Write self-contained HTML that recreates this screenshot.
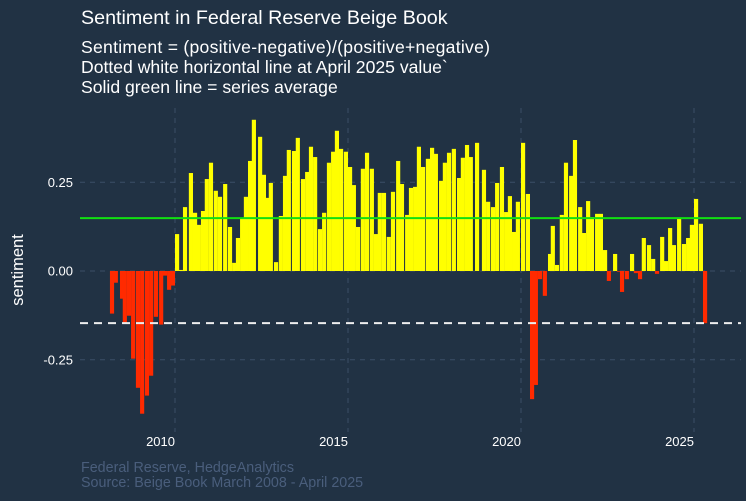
<!DOCTYPE html>
<html><head><meta charset="utf-8"><style>
body{margin:0;background:#213244;}
svg{display:block;font-family:"Liberation Sans",sans-serif;}
</style></head><body>
<svg id="chart" width="746" height="501" viewBox="0 0 746 501">
<rect x="0" y="0" width="746" height="501" fill="#213244"/>
<text x="81" y="24" font-size="19.7" fill="#ffffff">Sentiment in Federal Reserve Beige Book</text>
<text x="81" y="53" font-size="17.6" textLength="409" fill="#ffffff">Sentiment = (positive-negative)/(positive+negative)</text>
<text x="81" y="73" font-size="17.6" fill="#ffffff">Dotted white horizontal line at April 2025 value`</text>
<text x="81" y="93" font-size="17.6" fill="#ffffff">Solid green line = series average</text>
<text transform="translate(23,270) rotate(-90)" text-anchor="middle" font-size="16.5" fill="#ffffff">sentiment</text>
<g id="grid"></g>
<g id="bars"></g>
<g id="refs"></g>
<g id="ticks"></g>
<text x="81" y="472" font-size="14.3" fill="#4a5e7c">Federal Reserve, HedgeAnalytics</text>
<text x="81" y="487" font-size="14.3" fill="#4a5e7c">Source: Beige Book March 2008 - April 2025</text>
</svg>
<script>
const dates=[2008.18,2008.29,2008.47,2008.55,2008.67,2008.79,2008.93,2009.05,2009.19,2009.31,2009.45,2009.60,2009.71,2009.83,2009.94,
2010.06,2010.17,2010.29,2010.46,2010.58,2010.69,2010.81,2010.92,2011.04,2011.18,2011.30,2011.45,2011.59,2011.71,2011.82,2011.94,
2012.05,2012.17,2012.28,2012.46,2012.57,2012.66,2012.77,2012.92,2013.06,2013.18,2013.29,2013.44,2013.55,2013.70,2013.82,2013.93,
2014.05,2014.19,2014.31,2014.45,2014.57,2014.68,2014.80,2014.94,2015.06,2015.17,2015.29,2015.43,2015.55,2015.69,2015.81,2015.92,
2016.04,2016.18,2016.30,2016.45,2016.56,2016.71,2016.82,2016.94,2017.05,2017.17,2017.31,2017.43,2017.54,2017.69,2017.80,2017.92,
2018.06,2018.21,2018.32,2018.44,2018.55,2018.73,2018.93,2019.05,2019.19,2019.31,2019.45,2019.57,2019.68,2019.80,2019.91,
2020.06,2020.20,2020.32,2020.43,2020.55,2020.69,2020.84,2020.92,2021.04,2021.18,2021.30,2021.45,2021.56,2021.71,2021.82,2021.94,
2022.05,2022.20,2022.31,2022.43,2022.54,2022.72,2022.83,2022.92,2023.06,2023.21,2023.32,2023.44,2023.55,2023.70,2023.82,2023.93,
2024.08,2024.19,2024.31,2024.42,2024.57,2024.71,2024.83,2024.94,2025.06,2025.20,2025.32];
const sentiment=[-0.12,-0.033,-0.078,-0.145,-0.126,-0.247,-0.329,-0.402,-0.351,-0.295,-0.129,-0.151,-0.013,-0.053,-0.041,
0.104,0.003,0.18,0.276,0.164,0.13,0.169,0.259,0.305,0.226,0.209,0.245,0.124,0.023,0.093,0.147,
0.209,0.31,0.426,0.378,0.271,0.206,0.248,0.025,0.155,0.268,0.341,0.338,0.375,0.259,0.279,0.35,
0.321,0.118,0.164,0.305,0.336,0.395,0.344,0.336,0.293,0.242,0.124,0.288,0.333,0.288,0.104,0.22,
0.22,0.096,0.223,0.31,0.245,0.158,0.234,0.237,0.35,0.293,0.316,0.347,0.33,0.254,0.305,0.333,
0.344,0.262,0.319,0.355,0.321,0.361,0.285,0.195,0.18,0.248,0.293,0.166,0.211,0.11,0.195,
0.361,0.217,-0.361,-0.321,-0.023,-0.07,0.048,0.127,0.017,0.158,0.305,0.268,0.369,0.18,0.107,0.197,
0.152,0.161,0.161,0.059,-0.028,0.048,-0.002,-0.059,-0.023,0.048,-0.006,-0.023,0.093,0.073,0.034,-0.008,
0.096,0.028,0.121,0.073,0.147,0.076,0.093,0.13,0.203,0.133,-0.147];
const xTicks=[2010,2015,2020,2025];
const yTicks=[-0.25,0,0.25];
const yTickLabels=["-0.25","0.00","0.25"];
const averageValue=0.149;
const latestValue=-0.147;

const NS="http://www.w3.org/2000/svg";
const xScale=y=>175+(y-2010)*34.6;
const yScale=v=>271-v*355;
const X0=80,X1=741,Y0=108,Y1=432;
function mk(tag,attrs,parent){const e=document.createElementNS(NS,tag);for(const k in attrs)e.setAttribute(k,attrs[k]);parent.appendChild(e);return e;}
const grid=document.getElementById('grid'),bars=document.getElementById('bars'),refs=document.getElementById('refs'),ticks=document.getElementById('ticks');
yTicks.forEach((t,i)=>{
  const l=mk('line',{x1:X0,x2:X1,y1:yScale(t),y2:yScale(t),stroke:'#3a4e66','stroke-width':1,'stroke-dasharray':'5,5'},grid);
  
  
  const tx=mk('text',{x:73,y:yScale(t)+4.5,'text-anchor':'end','font-size':13,fill:'#ffffff'},ticks);
  tx.textContent=yTickLabels[i];
  
  
});
xTicks.forEach(t=>{
  const l=mk('line',{x1:xScale(t),x2:xScale(t),y1:Y0,y2:Y1,stroke:'#3a4e66','stroke-width':1,'stroke-dasharray':'5,5'},grid);
  
  
  const tx=mk('text',{x:xScale(t),y:446,'text-anchor':'end','font-size':13,fill:'#ffffff'},ticks);
  tx.textContent=String(t);
  
  
});
const bw=0.12*34.6;
dates.forEach((d,i)=>{
  const v=sentiment[i];
  const y=Math.min(yScale(v),yScale(0)),h=Math.max(Math.abs(yScale(v)-yScale(0)),0.6);
  const r=mk('rect',{x:xScale(d)-bw/2,y:y,width:bw,height:h,fill:v>=0?'#ffff00':'#ff2a00'},bars);
  
  
});
const avg=mk('line',{x1:X0,x2:X1,y1:yScale(averageValue),y2:yScale(averageValue),stroke:'#11e011','stroke-width':2},refs);


const lat=mk('line',{x1:X0,x2:X1,y1:yScale(latestValue),y2:yScale(latestValue),stroke:'#eeeeee','stroke-width':2,'stroke-dasharray':'8,6'},refs);


</script>
</body></html>
